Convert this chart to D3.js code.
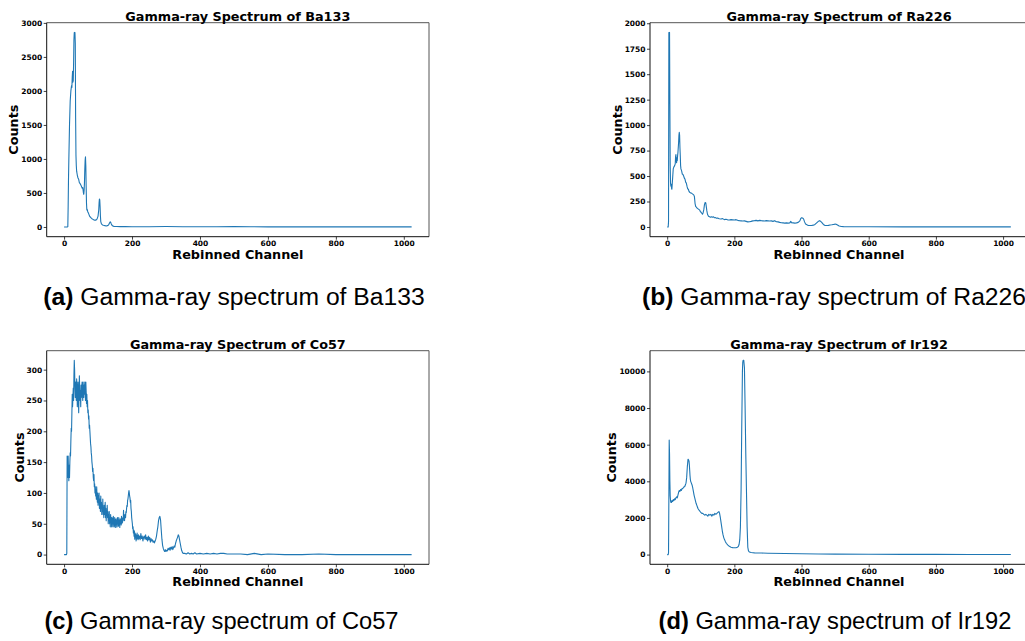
<!DOCTYPE html>
<html><head><meta charset="utf-8">
<script src="https://cdn.jsdelivr.net/npm/d3@7"></script>
<style>
body{margin:0;background:#fff;}
svg{display:block;background:#fff;}
.tick text{font-family:"DejaVu Sans";font-weight:bold;font-size:7.5px;fill:#000;}
</style></head><body>
<svg id="c" width="1025" height="641"></svg>
<script>
// ---------- data (channel, counts) ----------
const xTickValues = [0, 200, 400, 600, 800, 1000];
const ba133YTicks = [0, 500, 1000, 1500, 2000, 2500, 3000];
const ra226YTicks = [0, 250, 500, 750, 1000, 1250, 1500, 1750, 2000];
const co57YTicks = [0, 50, 100, 150, 200, 250, 300];
const ir192YTicks = [0, 2000, 4000, 6000, 8000, 10000];

const sourceNames = ["Ba133", "Ra226", "Co57", "Ir192"];
const panelLetters = ["a", "b", "c", "d"];

const ba133 = [[0,0],[5,0],[10,0],[11,5],[12,300],[13,700],[14,980],[16,1500],[18,1850],[20,2000],[22,2080],[23,2050],[24,2200],[25,2290],[26,2130],[27,2150],[28,2400],[29,2750],[30,2860],[31,2830],[32,2860],[33,2700],[34,1600],[35,1050],[36,900],[37,820],[39,760],[41,720],[43,700],[45,650],[47,640],[49,620],[51,600],[53,570],[55,580],[56,540],[57,500],[58,480],[59,540],[60,650],[61,850],[62,980],[63,1030],[64,900],[65,600],[66,350],[67,250],[68,260],[70,220],[72,200],[75,160],[78,140],[81,125],[84,115],[87,105],[90,100],[93,100],[96,110],[98,130],[100,160],[102,250],[103,350],[104,410],[105,400],[106,300],[107,160],[108,80],[110,45],[113,30],[116,25],[120,20],[124,15],[128,20],[131,30],[133,50],[135,70],[136,75],[137,70],[139,45],[141,25],[144,12],[148,8],[155,6],[165,5],[180,5],[200,4],[250,4],[300,6],[350,4],[400,3],[450,3],[500,5],[550,3],[600,2],[700,2],[800,1],[900,1],[1023,1]];

const ra226 = [[0,0],[3,0],[4,50],[5,1910],[6,1900],[7,1910],[8,1200],[9,600],[10,430],[11,400],[12,420],[13,380],[14,370],[15,420],[16,470],[18,570],[20,590],[22,600],[24,620],[25,690],[26,710],[27,650],[28,630],[29,680],[30,650],[31,700],[32,730],[34,830],[35,900],[36,930],[37,900],[38,780],[39,700],[40,600],[41,570],[43,550],[45,520],[47,515],[49,500],[51,480],[53,470],[55,440],[57,430],[59,400],[61,375],[63,370],[65,350],[67,340],[69,335],[71,335],[73,330],[75,325],[77,320],[79,315],[81,300],[83,230],[85,200],[87,195],[89,185],[91,180],[93,175],[95,170],[97,165],[99,150],[101,145],[103,135],[105,125],[107,140],[109,170],[111,220],[113,240],[115,235],[116,210],[118,160],[120,125],[123,105],[126,100],[129,95],[132,100],[135,95],[138,100],[141,90],[144,92],[147,85],[150,88],[155,80],[160,78],[165,82],[170,72],[175,76],[180,70],[185,68],[190,72],[195,70],[200,68],[205,72],[210,65],[215,62],[220,60],[225,58],[230,60],[235,55],[240,50],[245,52],[250,55],[255,60],[260,62],[265,65],[270,60],[275,65],[280,62],[285,60],[290,58],[295,62],[300,60],[305,58],[310,60],[315,55],[320,62],[325,52],[330,50],[335,45],[340,42],[345,40],[350,38],[355,40],[360,38],[365,40],[368,55],[370,42],[375,40],[380,38],[385,40],[390,45],[395,60],[398,85],[400,90],[403,88],[406,80],[409,50],[412,30],[416,22],[420,15],[425,14],[430,14],[435,18],[440,25],[445,40],[450,55],[453,62],[456,58],[460,45],[465,25],[470,15],[475,14],[480,16],[485,20],[490,22],[495,25],[500,28],[503,27],[507,20],[512,10],[518,5],[525,3],[550,2],[600,2],[700,1],[800,1],[900,1],[1023,1]];

const co57 = [[0,0],[7,0],[8,2],[9,160],[10,150],[11,125],[12,160],[13,135],[14,120],[15,145],[16,125],[17,150],[18,165],[19,160],[20,185],[21,205],[22,200],[23,230],[24,260],[25,240],[26,255],[27,270],[28,250],[29,290],[30,315],[31,300],[32,270],[33,255],[34,280],[35,260],[36,250],[37,285],[38,270],[39,240],[40,255],[41,280],[42,260],[43,230],[44,260],[45,290],[46,270],[47,250],[48,265],[49,240],[50,275],[51,255],[52,270],[53,280],[54,260],[55,250],[56,280],[57,265],[58,255],[59,275],[60,260],[61,280],[62,270],[63,250],[64,280],[65,265],[66,245],[67,260],[68,240],[69,250],[70,230],[71,235],[72,220],[73,225],[74,205],[75,210],[76,200],[77,190],[78,180],[79,175],[80,165],[81,160],[82,150],[83,145],[84,135],[85,140],[86,125],[87,120],[88,130],[89,110],[90,115],[91,100],[92,110],[93,95],[94,105],[95,90],[96,110],[97,95],[98,85],[99,100],[100,80],[101,95],[102,85],[103,100],[104,75],[105,90],[106,80],[107,70],[108,95],[109,75],[110,85],[111,65],[112,80],[113,70],[114,90],[115,65],[116,75],[117,60],[118,80],[119,70],[120,65],[121,85],[122,60],[123,75],[124,55],[125,70],[126,65],[127,80],[128,60],[129,70],[130,50],[131,65],[132,55],[133,70],[134,50],[135,60],[136,45],[137,65],[138,55],[139,60],[140,45],[141,60],[142,50],[143,58],[144,45],[145,62],[146,50],[147,55],[148,45],[149,60],[150,48],[151,57],[152,44],[153,58],[154,50],[155,55],[156,45],[157,60],[158,50],[159,56],[160,46],[161,60],[162,48],[163,55],[164,44],[165,58],[166,52],[167,56],[168,48],[169,62],[170,50],[171,58],[172,52],[173,60],[174,55],[175,72],[176,58],[177,60],[178,55],[179,65],[180,62],[181,60],[182,70],[183,68],[184,75],[185,80],[186,78],[187,88],[188,90],[189,95],[190,100],[191,104],[192,100],[193,95],[194,92],[195,85],[196,88],[197,75],[198,70],[199,60],[200,55],[201,50],[202,42],[203,45],[204,35],[205,40],[206,30],[207,38],[208,25],[209,35],[210,28],[211,33],[212,22],[213,30],[214,25],[215,35],[216,26],[217,30],[218,24],[219,32],[220,26],[222,30],[224,24],[226,34],[228,26],[230,30],[232,22],[234,28],[236,30],[238,25],[240,32],[242,24],[244,28],[246,22],[248,30],[250,24],[252,28],[254,20],[256,26],[258,22],[260,24],[262,20],[264,22],[266,19],[268,22],[270,25],[272,30],[274,38],[276,45],[278,55],[280,60],[282,62],[284,56],[286,40],[288,25],[290,15],[292,10],[294,7],[296,5],[298,8],[300,5],[302,7],[304,6],[306,10],[308,8],[310,11],[312,7],[314,12],[316,9],[318,13],[320,8],[322,11],[324,14],[326,12],[328,18],[330,22],[332,25],[334,28],[336,32],[338,30],[340,24],[342,18],[344,12],[346,7],[348,4],[350,2],[355,2],[360,1],[365,3],[370,1],[375,2],[380,1],[385,3],[390,1],[400,2],[410,1],[420,2],[430,1],[440,2],[450,1],[460,2],[470,2],[480,1],[500,1],[520,1],[540,0],[560,2],[580,0],[600,1],[650,0],[700,0],[750,1],[800,0],[850,0],[900,0],[950,0],[1000,0],[1023,0]];

const ir192 = [[0,0],[3,0],[4,100],[5,3000],[6,6250],[7,5500],[8,4000],[9,3200],[10,2950],[11,2850],[12,2900],[13,2850],[14,2950],[16,2900],[18,3000],[20,2950],[22,3050],[24,3000],[26,3100],[28,3150],[30,3100],[32,3250],[34,3400],[36,3500],[38,3450],[40,3550],[42,3500],[44,3600],[46,3600],[48,3650],[50,3700],[52,3700],[54,3800],[56,3900],[58,4200],[59,4500],[60,4800],[61,5000],[62,5200],[63,5200],[64,5150],[65,5100],[66,4900],[67,4600],[68,4300],[69,4100],[70,4000],[72,3900],[74,3800],[76,3650],[78,3450],[80,3250],[82,3100],[84,2950],[86,2800],[88,2700],[90,2600],[92,2500],[94,2450],[96,2400],[98,2350],[100,2300],[103,2250],[106,2250],[109,2200],[112,2150],[115,2200],[118,2150],[121,2100],[124,2200],[127,2150],[130,2200],[133,2100],[136,2200],[139,2150],[142,2250],[145,2200],[148,2250],[151,2300],[154,2350],[156,2250],[158,2050],[160,1800],[162,1550],[164,1300],[166,1100],[168,950],[170,850],[173,720],[176,620],[180,530],[185,450],[190,400],[195,380],[200,370],[205,375],[209,400],[212,450],[214,550],[216,800],[218,1500],[220,3500],[222,7000],[224,10000],[225,10500],[226,10600],[228,10600],[230,10200],[232,8000],[234,5500],[236,3500],[238,1500],[240,400],[242,200],[245,140],[250,110],[260,95],[280,85],[300,75],[350,60],[400,45],[450,35],[500,28],[600,20],[700,14],[800,10],[900,7],[1023,5]];

// ---------- layout ----------
const panels = [
  {data: ba133, yTicks: ba133YTicks, left: 46.7, right: 429, top: 22.7, bottom: 236.7, capX: 234, capY: 305, capSize: 24.7, ylabX: 18.3},
  {data: ra226, yTicks: ra226YTicks, left: 650, right: 1028, top: 22.7, bottom: 236.7, capX: 834, capY: 305, capSize: 24.7, ylabX: 621.5},
  {data: co57, yTicks: co57YTicks, left: 46.7, right: 429, top: 350.7, bottom: 564.3, capX: 221.5, capY: 629, capSize: 23.7, ylabX: 24},
  {data: ir192, yTicks: ir192YTicks, left: 650, right: 1028, top: 350.7, bottom: 564.3, capX: 835, capY: 629, capSize: 23.7, ylabX: 616}
];

const svg = d3.select("#c");
const lineColor = "#1f77b4";

panels.forEach((p, i) => {
  const g = svg.append("g");
  const xMin = d3.min(p.data, d => d[0]), xMax = d3.max(p.data, d => d[0]);
  const yMin = d3.min(p.data, d => d[1]), yMax = d3.max(p.data, d => d[1]);
  const xPad = (xMax - xMin) * 0.05, yPad = (yMax - yMin) * 0.05;
  const x = d3.scaleLinear().domain([xMin - xPad, xMax + xPad]).range([p.left, p.right]);
  const y = d3.scaleLinear().domain([yMin - yPad, yMax + yPad]).range([p.bottom, p.top]);

  const clipId = "clip" + i;
  g.append("clipPath").attr("id", clipId).append("rect")
    .attr("x", p.left).attr("y", p.top).attr("width", p.right - p.left).attr("height", p.bottom - p.top);

  g.append("path").datum(p.data)
    .attr("clip-path", `url(#${clipId})`)
    .attr("fill", "none").attr("stroke", lineColor).attr("stroke-width", 1.1)
    .attr("stroke-linejoin", "round")
    .attr("d", d3.line().x(d => x(d[0])).y(d => y(d[1])));

  // spines
  g.append("line").attr("x1", p.left).attr("x2", p.right).attr("y1", p.top).attr("y2", p.top).attr("stroke", "#555").attr("stroke-width", 1);
  g.append("line").attr("x1", p.right).attr("x2", p.right).attr("y1", p.top).attr("y2", p.bottom).attr("stroke", "#555").attr("stroke-width", 1);

  const xAxis = g.append("g").attr("transform", `translate(0,${p.bottom})`)
    .call(d3.axisBottom(x).tickValues(xTickValues).tickSize(3).tickPadding(1.2).tickSizeOuter(0).tickFormat(d3.format("d")));
  const yAxis = g.append("g").attr("transform", `translate(${p.left},0)`)
    .call(d3.axisLeft(y).tickValues(p.yTicks).tickSize(3).tickPadding(1.5).tickSizeOuter(0).tickFormat(d3.format("d")));
  [xAxis, yAxis].forEach(a => {
    a.select(".domain").attr("stroke", "#111").attr("stroke-width", 1);
    a.selectAll(".tick line").attr("stroke", "#111").attr("stroke-width", 0.8);
  });
  xAxis.select(".domain").attr("d", `M${p.left},0H${p.right}`);
  yAxis.select(".domain").attr("d", `M0,${p.top}V${p.bottom}`);

  const cx = (p.left + p.right) / 2, cy = (p.top + p.bottom) / 2;
  const labelFont = "DejaVu Sans";
  g.append("text").attr("x", cx).attr("y", p.top - 2.2).attr("text-anchor", "middle")
    .attr("font-family", labelFont).attr("font-weight", "bold").attr("font-size", 12.8)
    .text("Gamma-ray Spectrum of " + sourceNames[i]);
  g.append("text").attr("x", cx).attr("y", p.bottom + 21.8).attr("text-anchor", "middle")
    .attr("font-family", labelFont).attr("font-weight", "bold").attr("font-size", 12.8)
    .text("Rebinned Channel");
  g.append("text").attr("transform", `translate(${p.ylabX},${cy}) rotate(-90)`).attr("text-anchor", "middle")
    .attr("font-family", labelFont).attr("font-weight", "bold").attr("font-size", 12.8)
    .text("Counts");

  const cap = g.append("text").attr("x", p.capX).attr("y", p.capY).attr("text-anchor", "middle")
    .attr("font-family", "Liberation Sans").attr("font-size", p.capSize).attr("fill", "#000");
  cap.append("tspan").attr("font-weight", "bold").text("(" + panelLetters[i] + ")");
  cap.append("tspan").text(" Gamma-ray spectrum of " + sourceNames[i]);
});
</script>
</body></html>
